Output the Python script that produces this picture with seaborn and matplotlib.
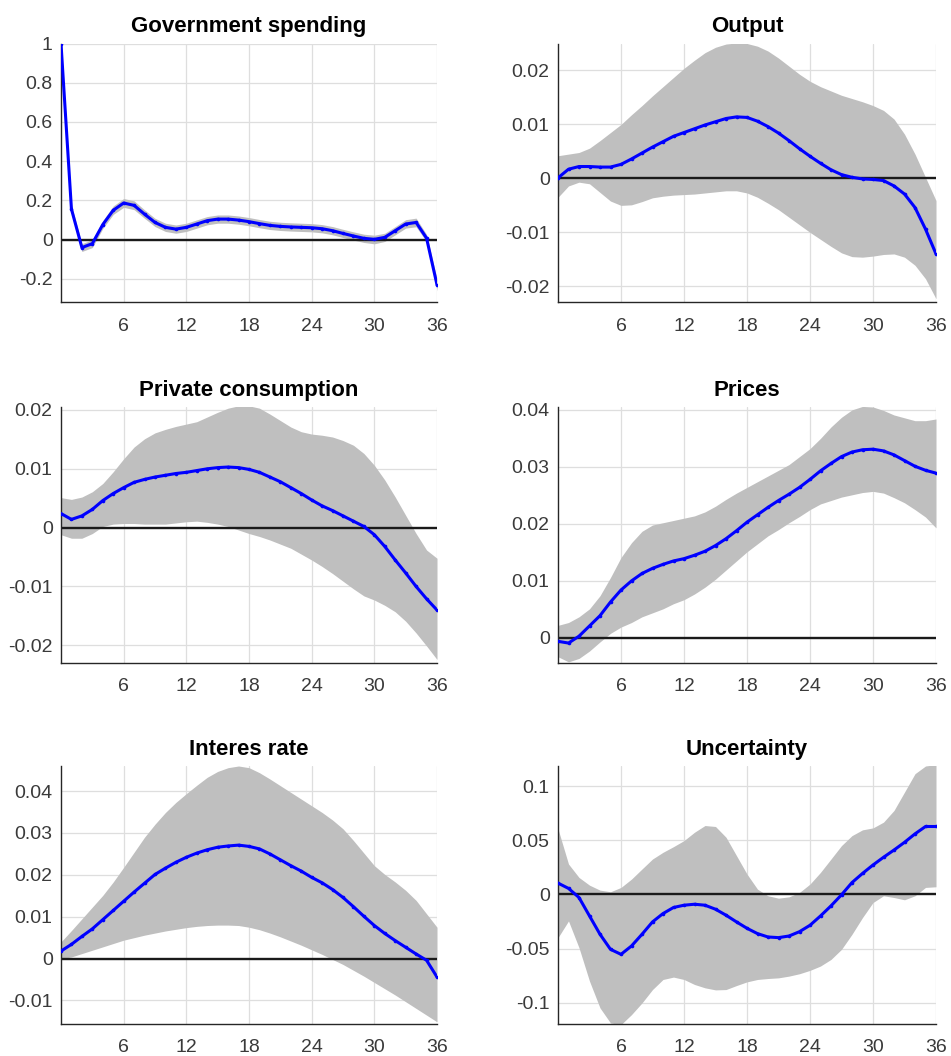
import numpy as np
import pandas as pd
import matplotlib
matplotlib.use("Agg")
import matplotlib.pyplot as plt
from matplotlib.ticker import FuncFormatter
import seaborn as sns

# Horizons (months after the shock)
horizon = list(range(37))
xticks = [6, 12, 18, 24, 30, 36]

titles = ["Government spending", "Output", "Private consumption",
          "Prices", "Interes rate", "Uncertainty"]

# Median impulse responses with lower / upper credible bands
gov_mid = [1.0, 0.156, -0.04, -0.02, 0.077, 0.15, 0.187, 0.175, 0.13, 0.088, 0.063, 0.054,
           0.063, 0.08, 0.097, 0.105, 0.105, 0.10, 0.092, 0.082, 0.073, 0.068, 0.065, 0.063,
           0.061, 0.056, 0.046, 0.032, 0.019, 0.007, 0.002, 0.012, 0.046, 0.08, 0.088, 0.008, -0.23]
gov_hi = [1.0, 0.175, -0.02, 0.0, 0.097, 0.172, 0.21, 0.198, 0.152, 0.109, 0.084, 0.075,
          0.084, 0.101, 0.118, 0.126, 0.126, 0.121, 0.113, 0.103, 0.094, 0.089, 0.086, 0.084,
          0.082, 0.077, 0.067, 0.053, 0.04, 0.028, 0.023, 0.033, 0.067, 0.102, 0.11, 0.027, -0.2]
gov_lo = [1.0, 0.137, -0.06, -0.04, 0.057, 0.129, 0.165, 0.153, 0.109, 0.067, 0.042, 0.033,
          0.042, 0.059, 0.076, 0.084, 0.084, 0.079, 0.071, 0.061, 0.052, 0.047, 0.044, 0.042,
          0.04, 0.035, 0.025, 0.011, -0.002, -0.014, -0.021, -0.009, 0.025, 0.059, 0.066, -0.011, -0.26]

out_mid = [0.0001, 0.0017, 0.0022, 0.0022, 0.0021, 0.0021, 0.0026, 0.0036, 0.0047, 0.0058,
           0.0068, 0.0078, 0.0085, 0.0092, 0.0099, 0.0105, 0.0111, 0.0114, 0.0113, 0.0106,
           0.0096, 0.0084, 0.007, 0.0055, 0.0041, 0.0028, 0.0016, 0.0007, 0.0002, -0.0001,
           -0.0002, -0.0004, -0.0014, -0.0029, -0.0054, -0.0094, -0.014]
out_hi = [0.0042, 0.0045, 0.0048, 0.0056, 0.007, 0.0085, 0.01, 0.0118, 0.0135, 0.0153, 0.017,
          0.0187, 0.0204, 0.0219, 0.0233, 0.0243, 0.0249, 0.0251, 0.025, 0.0245, 0.0236, 0.0223,
          0.0208, 0.0193, 0.018, 0.017, 0.0162, 0.0154, 0.0148, 0.0142, 0.0135, 0.0126, 0.011,
          0.0082, 0.0045, 0.0002, -0.0041]
out_lo = [-0.0035, -0.0014, -0.0007, -0.001, -0.0026, -0.0042, -0.005, -0.0049, -0.0043,
          -0.0036, -0.0033, -0.0031, -0.003, -0.0029, -0.0027, -0.0025, -0.0023, -0.0023,
          -0.0027, -0.0035, -0.0046, -0.0058, -0.0072, -0.0086, -0.01, -0.0113, -0.0126,
          -0.0138, -0.0145, -0.0146, -0.0144, -0.0141, -0.014, -0.0146, -0.0161, -0.0186, -0.0223]

cons_mid = [0.0024, 0.0014, 0.002, 0.0031, 0.0046, 0.0058, 0.0068, 0.0077, 0.0082, 0.0086,
            0.0089, 0.0092, 0.0094, 0.0097, 0.01, 0.0102, 0.0103, 0.0102, 0.0099, 0.0094,
            0.0086, 0.0078, 0.0068, 0.0058, 0.0047, 0.0037, 0.0029, 0.002, 0.0011, 0.0002,
            -0.0012, -0.0032, -0.0055, -0.0077, -0.01, -0.0121, -0.014]
cons_hi = [0.0051, 0.0048, 0.0052, 0.0061, 0.0075, 0.0095, 0.0117, 0.0137, 0.0151, 0.0161,
           0.0167, 0.0172, 0.0176, 0.018, 0.0188, 0.0196, 0.0203, 0.0207, 0.0207, 0.0203,
           0.0193, 0.0182, 0.0171, 0.0163, 0.0159, 0.0157, 0.0154, 0.0148, 0.014, 0.0126,
           0.0106, 0.0081, 0.0052, 0.0021, -0.001, -0.0038, -0.0052]
cons_lo = [-0.0012, -0.0018, -0.0018, -0.001, 0.0002, 0.0006, 0.0007, 0.0007, 0.0006, 0.0006,
           0.0006, 0.0008, 0.001, 0.0011, 0.0009, 0.0006, 0.0002, -0.0004, -0.001, -0.0015,
           -0.0021, -0.0028, -0.0035, -0.0045, -0.0055, -0.0066, -0.0078, -0.0091, -0.0104,
           -0.0116, -0.0123, -0.0132, -0.0143, -0.0159, -0.0179, -0.0201, -0.0224]

price_mid = [-0.0006, -0.0009, 0.0003, 0.0021, 0.0039, 0.0063, 0.0084, 0.01, 0.0113, 0.0122,
             0.0129, 0.0135, 0.0139, 0.0145, 0.0152, 0.0162, 0.0174, 0.0188, 0.0203, 0.0216,
             0.0229, 0.0241, 0.0252, 0.0264, 0.0278, 0.0293, 0.0306, 0.0318, 0.0326, 0.033,
             0.0331, 0.0328, 0.0321, 0.0311, 0.0301, 0.0294, 0.0289]
price_hi = [0.0022, 0.0027, 0.0037, 0.0051, 0.0074, 0.0106, 0.0141, 0.0167, 0.0187, 0.0198,
            0.0202, 0.0206, 0.021, 0.0214, 0.0221, 0.0231, 0.0243, 0.0254, 0.0264, 0.0274,
            0.0284, 0.0294, 0.0304, 0.0318, 0.0332, 0.035, 0.037, 0.0387, 0.04, 0.0406, 0.0405,
            0.0399, 0.0391, 0.0386, 0.0381, 0.0381, 0.0384]
price_lo = [-0.0033, -0.0042, -0.0036, -0.0023, -0.0007, 0.0008, 0.0019, 0.0027, 0.0037,
            0.0044, 0.0051, 0.006, 0.0067, 0.0077, 0.0089, 0.0103, 0.0119, 0.0135, 0.0151,
            0.0165, 0.0179, 0.019, 0.0202, 0.0213, 0.0225, 0.0235, 0.0241, 0.0247, 0.0251,
            0.0255, 0.0257, 0.0254, 0.0246, 0.0237, 0.0225, 0.0212, 0.0193]

rate_mid = [0.0018, 0.0034, 0.0053, 0.0071, 0.0093, 0.0115, 0.0137, 0.0159, 0.018, 0.0201,
            0.0216, 0.023, 0.0242, 0.0252, 0.026, 0.0266, 0.0269, 0.0271, 0.0268, 0.0262,
            0.025, 0.0236, 0.0222, 0.0209, 0.0194, 0.0181, 0.0165, 0.0146, 0.0124, 0.0101,
            0.0079, 0.006, 0.0043, 0.0027, 0.0011, -0.0004, -0.0044]
rate_hi = [0.004, 0.0067, 0.0095, 0.0123, 0.0151, 0.0183, 0.0218, 0.0254, 0.029, 0.0321,
           0.0349, 0.0373, 0.0394, 0.0414, 0.0433, 0.0447, 0.0456, 0.046, 0.0456, 0.0444,
           0.0429, 0.0413, 0.0397, 0.0381, 0.0365, 0.0349, 0.0331, 0.031, 0.0282, 0.0252,
           0.0222, 0.0201, 0.0183, 0.0163, 0.0139, 0.0107, 0.0075]
rate_lo = [0.0, 0.0004, 0.0012, 0.002, 0.0028, 0.0036, 0.0044, 0.005, 0.0056, 0.0061, 0.0066,
           0.007, 0.0074, 0.0077, 0.0079, 0.008, 0.008, 0.0079, 0.0075, 0.0069, 0.0061,
           0.0052, 0.0042, 0.0032, 0.0021, 0.001, -0.0002, -0.0014, -0.0028, -0.0042,
           -0.0057, -0.0072, -0.0087, -0.0103, -0.0119, -0.0135, -0.0151]

unc_mid = [0.0105, 0.0056, -0.0028, -0.0198, -0.0367, -0.0506, -0.0552, -0.0475, -0.0367,
           -0.0253, -0.0176, -0.012, -0.0099, -0.009, -0.0099, -0.0136, -0.0191, -0.0253,
           -0.0312, -0.0361, -0.0392, -0.0398, -0.0383, -0.0343, -0.0284, -0.0198, -0.0105,
           -0.0003, 0.011, 0.0194, 0.0272, 0.0343, 0.041, 0.0481, 0.0559, 0.0627, 0.0627]
unc_hi = [0.0605, 0.0281, 0.0157, 0.0086, 0.004, 0.0025, 0.0065, 0.0142, 0.0235, 0.0327,
          0.0389, 0.0441, 0.0497, 0.0574, 0.0636, 0.0627, 0.0528, 0.0358, 0.0188, 0.0049,
          -0.0012, -0.0034, -0.0022, 0.0019, 0.0096, 0.0204, 0.0327, 0.0451, 0.0543, 0.0596,
          0.0614, 0.0667, 0.0775, 0.0944, 0.1114, 0.1185, 0.1198]
unc_lo = [-0.0398, -0.0244, -0.0491, -0.0799, -0.1046, -0.1185, -0.12, -0.1108, -0.1,
          -0.0877, -0.0784, -0.0762, -0.0784, -0.083, -0.0861, -0.088, -0.0877, -0.084,
          -0.0806, -0.0784, -0.0775, -0.0769, -0.0753, -0.0731, -0.07, -0.066, -0.0599,
          -0.0506, -0.0367, -0.0213, -0.0074, -0.0012, -0.0028, -0.0049, -0.0012, 0.0065, 0.0071]

mids = [gov_mid, out_mid, cons_mid, price_mid, rate_mid, unc_mid]
his = [gov_hi, out_hi, cons_hi, price_hi, rate_hi, unc_hi]
los = [gov_lo, out_lo, cons_lo, price_lo, rate_lo, unc_lo]

yticks = [[-0.2, 0, 0.2, 0.4, 0.6, 0.8, 1],
          [-0.02, -0.01, 0, 0.01, 0.02],
          [-0.02, -0.01, 0, 0.01, 0.02],
          [0, 0.01, 0.02, 0.03, 0.04],
          [-0.01, 0, 0.01, 0.02, 0.03, 0.04],
          [-0.1, -0.05, 0, 0.05, 0.1]]
ylims = [(-0.32, 1.0), (-0.023, 0.025), (-0.023, 0.0205),
         (-0.0044, 0.0405), (-0.0155, 0.046), (-0.119, 0.1185)]

sns.set_theme(style="whitegrid")
plt.rcParams["font.family"] = ["Liberation Sans", "DejaVu Sans"]

W, H = 951, 1056
fig = plt.figure(figsize=(W / 100, H / 100), dpi=100)

# panel boxes in pixels: (left, right) per column, (top, bottom) per row
cols = [(61, 437), (558, 936)]
rows = [(43.5, 302.5), (407, 663), (766, 1023.5)]

for i in range(6):
    r, c = divmod(i, 2)
    x0, x1 = cols[c]
    t, b = rows[r]
    ax = fig.add_axes([x0 / W, 1 - b / H, (x1 - x0) / W, (b - t) / H])
    ax.set_facecolor("white")

    df = pd.DataFrame({"h": horizon, "mid": mids[i], "lo": los[i], "hi": his[i]})
    ax.fill_between(df["h"], df["lo"], df["hi"], color="#bfbfbf", lw=0, zorder=1)
    ax.axhline(0, color="#1a1a1a", lw=1.7, zorder=2)
    sns.lineplot(data=df, x="h", y="mid", ax=ax, color="#0000ff", lw=2.2,
                 marker="o", markersize=2.6, markeredgewidth=0, zorder=3)

    ax.set_xlim(0, 36)
    ax.set_ylim(*ylims[i])
    ax.set_xticks(xticks)
    ax.set_yticks(yticks[i])
    ax.yaxis.set_major_formatter(FuncFormatter(lambda v, p: f"{v:g}"))
    ax.set_xlabel("")
    ax.set_ylabel("")
    ax.set_title(titles[i], fontsize=16, fontweight="bold", color="black", pad=8)

    ax.grid(True, color="#dedede", lw=0.9)
    ax.set_axisbelow(True)
    for side in ["top", "right"]:
        ax.spines[side].set_visible(False)
    for side in ["left", "bottom"]:
        ax.spines[side].set_visible(True)
        ax.spines[side].set_color("#262626")
        ax.spines[side].set_linewidth(1.0)
    ax.tick_params(axis="both", direction="in", length=4, width=0.8, colors="#262626",
                   labelsize=14, labelcolor="#3a3a3a")
    ax.tick_params(axis="x", pad=11)
    ax.tick_params(axis="y", pad=6)

fig.savefig("out.png", dpi=100)
